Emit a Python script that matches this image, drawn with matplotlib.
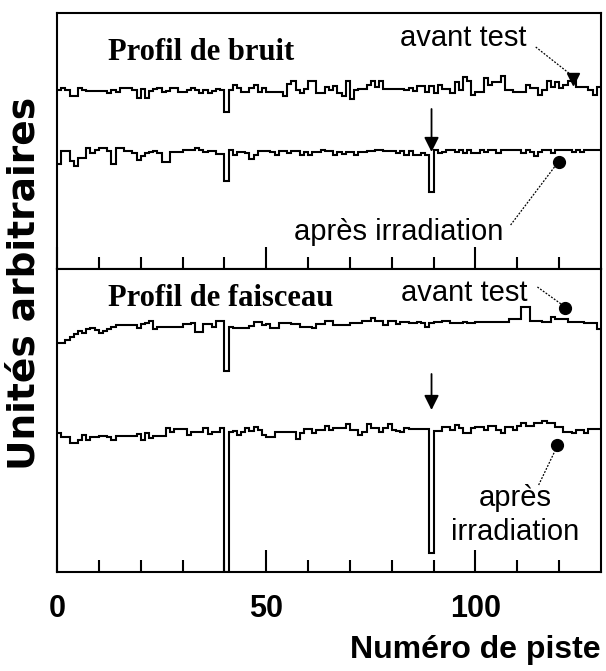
import matplotlib
matplotlib.use('Agg')
import matplotlib.pyplot as plt
import numpy as np

# ---------------- data (arbitrary units, one value per strip) ----------------
top_avant = [179,181,179,173,173,181,179,178,178,178,
             178,178,176,179,177,181,181,181,179,171,
             180,171,178,180,181,177,178,181,181,177,
             177,179,181,179,176,179,176,178,180,179,
             157,179,184,181,177,177,181,184,177,181,
             177,177,177,177,173,185,188,179,176,180,
             188,188,176,176,182,179,183,176,173,188,
             170,179,180,180,184,188,182,188,180,180,
             180,180,180,179,181,178,183,183,177,183,
             176,184,180,180,176,187,179,192,188,174,
             177,177,191,184,187,187,193,179,179,177,
             177,177,184,181,181,174,179,188,182,187,
             181,184,188,188,182,182,182,179,174,182]

top_apres = [105,118,118,108,103,111,111,121,116,119,
             121,121,118,105,121,121,118,118,116,109,
             113,116,117,118,116,107,107,117,117,117,
             119,119,119,121,119,117,118,118,115,115,
             88,119,114,117,117,116,110,114,118,118,
             118,117,114,118,118,116,118,118,114,117,
             114,117,117,119,118,118,114,117,115,117,
             117,114,117,117,118,118,119,119,118,118,
             118,116,118,114,118,114,114,116,114,77,
             119,116,117,119,119,117,119,116,119,116,
             116,119,117,119,119,116,119,119,119,119,
             119,116,119,117,113,117,119,119,116,119,
             119,119,119,117,119,117,119,119,119,119]

bot_avant = [229,229,232,235,238,241,239,243,244,242,
             239,241,243,245,247,247,247,247,247,244,
             248,249,251,243,245,245,245,245,245,245,
             248,248,249,240,240,248,248,245,251,251,
             201,245,244,244,244,244,246,250,250,247,
             248,244,244,249,249,249,248,248,245,245,
             245,244,248,248,251,251,247,247,247,247,
             249,249,249,251,251,254,251,251,247,251,
             251,248,250,250,249,249,250,249,245,249,
             250,250,251,251,249,249,249,250,249,249,
             250,250,250,250,250,250,250,250,253,253,
             253,265,265,251,251,251,250,250,255,253,
             253,253,250,250,250,250,249,249,249,243]

bot_apres = [139,135,135,129,129,132,137,132,135,135,
             136,136,135,132,136,136,136,136,136,138,
             132,139,134,136,136,136,144,140,143,143,
             143,137,140,140,140,144,138,140,140,144,
             0,140,141,137,140,144,141,145,142,137,
             135,135,140,140,140,140,140,133,139,143,
             143,139,142,142,146,142,144,144,144,148,
             142,142,137,140,148,144,144,140,144,148,
             142,141,140,144,143,143,143,143,143,19,
             141,141,145,145,142,147,144,139,139,144,
             145,145,142,146,146,142,139,145,145,142,
             146,149,146,146,149,149,151,149,149,145,
             145,140,140,139,142,142,139,143,143,143]

major_ticks = [0, 50, 100]
minor_ticks = [10, 20, 30, 40, 60, 70, 80, 90, 110, 120]
tick_labels = ['0', '50', '100']

panel_titles = ['Profil de bruit', 'Profil de faisceau']
ylabel = 'Unités arbitraires'
xlabel = 'Numéro de piste'

# ---------------- figure ----------------
W, H = 606, 671
fig = plt.figure(figsize=(W / 100, H / 100), dpi=100)
L, R = 57, 601
ax1 = fig.add_axes([L / W, 1 - 269 / H, (R - L) / W, 256 / H])
ax2 = fig.add_axes([L / W, 1 - 572 / H, (R - L) / W, 303 / H])

edges = np.arange(len(top_avant) + 1)
ax1.stairs(top_avant, edges, baseline=None, color='black', lw=1.5)
ax1.stairs(top_apres, edges, baseline=None, color='black', lw=1.5)
ax2.stairs(bot_avant, edges, baseline=None, color='black', lw=1.5)
ax2.stairs(bot_apres, edges, baseline=None, color='black', lw=1.5)

ax1.set_ylim(0, 256)
ax2.set_ylim(0, 303)
for ax in (ax1, ax2):
    ax.set_xlim(0, 130)
    ax.set_yticks([])
    ax.set_xticks(major_ticks)
    ax.set_xticks(minor_ticks, minor=True)
    ax.tick_params(axis='x', which='major', direction='in', length=16, width=1.5,
                   top=False, bottom=True)
    ax.tick_params(axis='x', which='minor', direction='in', length=8.5, width=1.5,
                   top=False, bottom=True)
    for s in ax.spines.values():
        s.set_linewidth(1.5)
        s.set_color('black')

ax1.set_xticklabels([])
ax2.set_xticklabels(tick_labels, fontsize=22, fontweight='bold',
                    family=['Liberation Sans', 'DejaVu Sans'])
ax2.tick_params(axis='x', which='major', pad=16)

sans = ['Liberation Sans', 'DejaVu Sans']
serif = ['Liberation Serif', 'DejaVu Serif']

# panel titles
ax1.text(12.2, 217, panel_titles[0], fontsize=22, fontweight='bold', family=serif,
         ha='left', va='center')
ax2.text(12.2, 274, panel_titles[1], fontsize=22, fontweight='bold', family=serif,
         ha='left', va='center')

dotted = dict(color='black', lw=0.9, ls=(0, (1.5, 1.2)))

# top panel annotations
ax1.text(97.0, 231, 'avant test', fontsize=21, family=sans, ha='center', va='center')
ax1.plot([114.4, 123.2], [222, 193], **dotted)
ax1.plot([123.4], [190], marker='v', ms=9, color='black')
ax1.text(81.7, 37, 'après irradiation', fontsize=21, family=sans, ha='center', va='center')
ax1.plot([108.4, 119.6], [44, 106], **dotted)
ax1.plot([119.9], [107], marker='o', ms=8.5, color='black')
ax1.annotate('', xy=(89.5, 117), xytext=(89.5, 160),
             arrowprops=dict(arrowstyle='-|>', mutation_scale=22, lw=1.3,
                             color='black', shrinkA=0, shrinkB=0))

# bottom panel annotations
ax2.text(97.4, 279, 'avant test', fontsize=21, family=sans, ha='center', va='center')
ax2.plot([114.8, 120.8], [285, 267], **dotted)
ax2.plot([121.5], [264], marker='o', ms=8.5, color='black')
ax2.text(109.4, 57, 'après\nirradiation', fontsize=21, family=sans, ha='center',
         va='center', linespacing=1.25)
ax2.plot([115.1, 119.1], [87, 122], **dotted)
ax2.plot([119.6], [127], marker='o', ms=8.5, color='black')
ax2.annotate('', xy=(89.5, 162), xytext=(89.5, 198),
             arrowprops=dict(arrowstyle='-|>', mutation_scale=22, lw=1.3,
                             color='black', shrinkA=0, shrinkB=0))

# axis labels
fig.text(25 / W, 1 - 283 / H, ylabel, rotation=90, fontsize=27, fontweight='bold',
         family=['DejaVu Sans'], ha='center', va='center')
fig.text(601 / W, 1 - 650 / H, xlabel, fontsize=23, fontweight='bold',
         family=['Liberation Sans', 'DejaVu Sans'],
         ha='right', va='center')

fig.savefig('out.png', dpi=100)
